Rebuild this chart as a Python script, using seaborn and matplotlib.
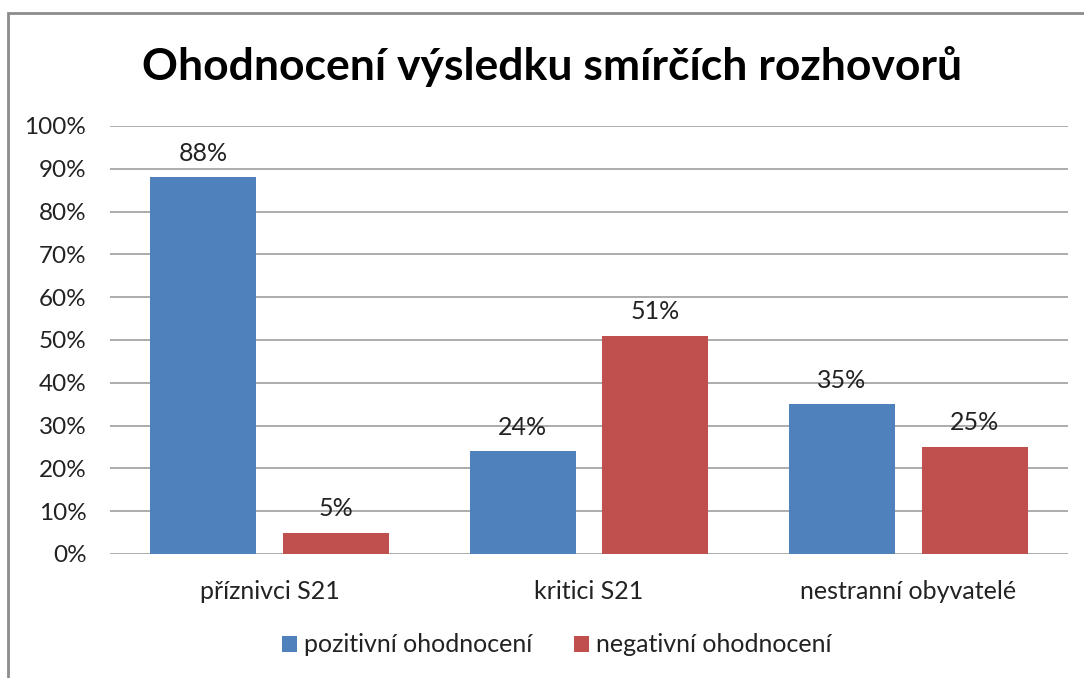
import pandas as pd
import seaborn as sns
import matplotlib.pyplot as plt
import matplotlib.ticker as ticker
from matplotlib.patches import Rectangle

# data
skupiny = ['příznivci S21', 'kritici S21', 'nestranní obyvatelé']
pozitivni = [0.88, 0.24, 0.35]
negativni = [0.05, 0.51, 0.25]
serie = ['pozitivní ohodnocení', 'negativní ohodnocení']
barvy = ['#4F81BD', '#C0504D']

df = pd.DataFrame({
    'skupina': skupiny * 2,
    'hodnota': pozitivni + negativni,
    'hodnocení': [serie[0]] * 3 + [serie[1]] * 3,
})

sns.set_style('white')
plt.rcParams['font.family'] = ['Lato', 'DejaVu Sans']
plt.rcParams['text.color'] = '#222222'

fig = plt.figure(figsize=(10.84, 6.78), dpi=100)
W, H = 1084, 678
ax = fig.add_axes([110 / W, (H - 554) / H, (1068 - 110) / W, (554 - 126) / H])

sns.barplot(data=df, x='skupina', y='hodnota', hue='hodnocení', palette=barvy,
            saturation=1, width=0.83, gap=0.2, linewidth=0, ax=ax, legend=True, zorder=3)

for c in ax.containers:
    ax.bar_label(c, labels=[f'{v * 100:.0f}%' for v in c.datavalues],
                 padding=9, fontsize=18, color='#222222')

ax.set_ylim(0, 1)
ax.set_xlim(-0.5, 2.5)
ax.yaxis.set_major_locator(ticker.MultipleLocator(0.1))
ax.yaxis.set_major_formatter(ticker.FuncFormatter(lambda v, p: f'{v * 100:.0f}%'))
ax.grid(axis='y', color='#a6a6a6', linewidth=1.3, zorder=0)
ax.set_axisbelow(True)
ax.tick_params(axis='y', length=0, pad=17, labelsize=17.5, labelcolor='#222222')
ax.tick_params(axis='x', length=0, pad=19, labelsize=18, labelcolor='#222222')
ax.set_xlabel('')
ax.set_ylabel('')
sns.despine(ax=ax, left=True, bottom=True)

handles, labels = ax.get_legend_handles_labels()
ax.get_legend().remove()
fig.legend(handles, labels, loc='center', bbox_to_anchor=(557 / W, 1 - 645 / H),
           ncol=2, frameon=False, fontsize=18, handlelength=0.6, handleheight=0.6,
           handletextpad=0.3, columnspacing=1.65)

fig.text(552 / W, 1 - 80 / H, 'Ohodnocení výsledku smírčích rozhovorů',
         ha='center', va='baseline', fontsize=32, fontweight='bold', color='black')

# chart frame (only left and top edges are inside the picture)
fig.patches.append(Rectangle((8 / W, -0.1), 2, 1.1 - 13 / H, transform=fig.transFigure,
                             fill=False, edgecolor='#8c8c8c', linewidth=2))

fig.savefig('out.png', dpi=100)
